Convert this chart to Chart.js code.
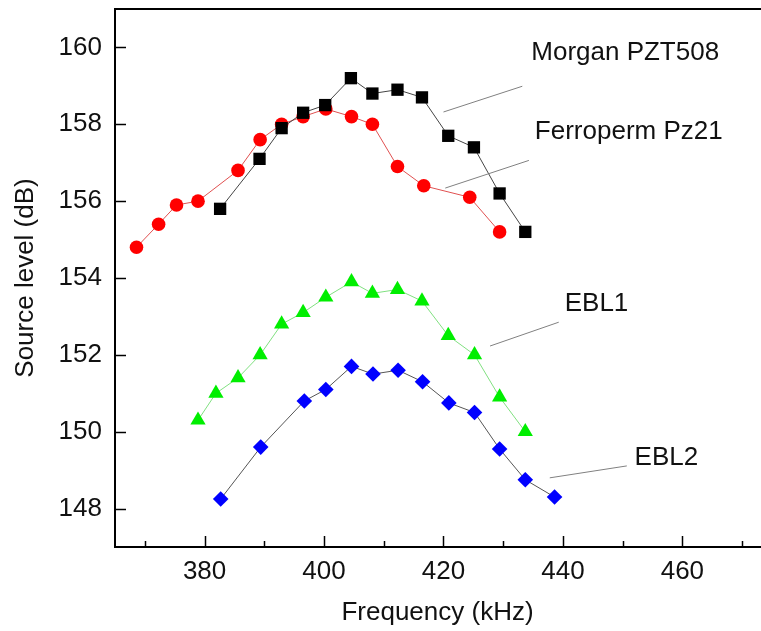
<!DOCTYPE html>
<html>
<head>
<meta charset="utf-8">
<script src="https://cdn.jsdelivr.net/npm/chart.js@4/dist/chart.umd.min.js"></script>
<style>
  html, body { margin: 0; padding: 0; background: #fff; }
  #myChart { display: block; }
</style>
</head>
<body>
<canvas id="myChart" width="761" height="631"></canvas>
<script>
const ctx = document.getElementById('myChart');

// Morgan PZT508
const freqMorgan = [382.6, 389.2, 392.9, 396.5, 400.2, 404.5, 408.1, 412.3, 416.4, 420.8, 425.1, 429.4, 433.7];
const levelMorgan = [155.8, 157.1, 157.9, 158.3, 158.5, 159.2, 158.8, 158.9, 158.7, 157.7, 157.4, 156.2, 155.2];

// Ferroperm Pz21
const freqFerro = [368.6, 372.3, 375.3, 378.9, 385.6, 389.3, 392.9, 396.5, 400.3, 404.6, 408.1, 412.3, 416.7, 424.4, 429.4];
const levelFerro = [154.8, 155.4, 155.9, 156.0, 156.8, 157.6, 158.0, 158.2, 158.4, 158.2, 158.0, 156.9, 156.4, 156.1, 155.2];

// EBL1
const freqEbl1 = [378.9, 381.9, 385.6, 389.3, 392.9, 396.5, 400.3, 404.6, 408.1, 412.3, 416.4, 420.8, 425.2, 429.4, 433.7];
const levelEbl1 = [150.3, 151.0, 151.4, 152.0, 152.8, 153.1, 153.5, 153.9, 153.6, 153.7, 153.4, 152.5, 152.0, 150.9, 150.0];

// EBL2
const freqEbl2 = [382.7, 389.4, 396.7, 400.3, 404.6, 408.2, 412.4, 416.5, 420.9, 425.2, 429.4, 433.7, 438.6];
const levelEbl2 = [148.25, 149.6, 150.8, 151.1, 151.7, 151.5, 151.6, 151.3, 150.75, 150.5, 149.55, 148.75, 148.3];

// ticks
const xTicks = [370, 380, 390, 400, 410, 420, 430, 440, 450, 460, 470];
const yTicks = [148, 150, 152, 154, 156, 158, 160];

// labels with leader lines (data units)
const etiquetas = [
    { texto: 'Morgan PZT508', x: 434.7, y: 159.87, linea: [420.0, 158.32, 433.2, 158.99] },
    { texto: 'Ferroperm Pz21', x: 435.3, y: 157.81, linea: [420.3, 156.34, 434.3, 157.06] },
    { texto: 'EBL1', x: 440.3, y: 153.32, linea: [427.8, 152.23, 439.3, 152.85] },
    { texto: 'EBL2', x: 452.0, y: 149.32, linea: [437.8, 148.80, 450.7, 149.11] }
];

const FUENTE = '"Liberation Sans", Arial, sans-serif';

function puntos(xs, ys) {
    return xs.map((x, i) => ({ x: x, y: ys[i] }));
}

// inward ticks, top frame line and annotations
const extras = {
    id: 'extras',
    afterDatasetsDraw(chart) {
        const c = chart.ctx;
        const a = chart.chartArea;
        const sx = chart.scales.x;
        const sy = chart.scales.y;
        c.save();
        c.strokeStyle = '#000';
        c.lineWidth = 2;
        c.beginPath();
        c.moveTo(a.left - 1, a.top);
        c.lineTo(a.right + 2, a.top);
        c.stroke();

        c.lineWidth = 1.5;
        for (const v of xTicks) {
            const px = Math.round(sx.getPixelForValue(v)) + 0.5;
            const largo = v % 20 === 0 ? 11 : 6;
            c.beginPath();
            c.moveTo(px, a.bottom);
            c.lineTo(px, a.bottom - largo);
            c.stroke();
        }
        for (const v of yTicks) {
            const py = Math.round(sy.getPixelForValue(v)) + 0.5;
            c.beginPath();
            c.moveTo(a.left, py);
            c.lineTo(a.left + 11, py);
            c.stroke();
        }

        c.strokeStyle = '#808080';
        c.lineWidth = 1;
        c.fillStyle = '#111';
        c.font = '26px ' + FUENTE;
        c.textAlign = 'left';
        c.textBaseline = 'middle';
        for (const e of etiquetas) {
            const l = e.linea;
            c.beginPath();
            c.moveTo(sx.getPixelForValue(l[0]), sy.getPixelForValue(l[1]));
            c.lineTo(sx.getPixelForValue(l[2]), sy.getPixelForValue(l[3]));
            c.stroke();
            c.fillText(e.texto, sx.getPixelForValue(e.x), sy.getPixelForValue(e.y));
        }
        c.restore();
    }
};

new Chart(ctx, {
    type: 'scatter',
    data: {
        datasets: [
            {
                label: 'Morgan PZT508',
                data: puntos(freqMorgan, levelMorgan),
                showLine: true,
                borderColor: '#444',
                borderWidth: 1,
                backgroundColor: '#000',
                pointStyle: 'rect',
                pointRadius: 8.7,
                pointBorderWidth: 0,
                pointBorderColor: '#000'
            },
            {
                label: 'Ferroperm Pz21',
                data: puntos(freqFerro, levelFerro),
                showLine: true,
                borderColor: '#e05050',
                borderWidth: 1,
                backgroundColor: '#ff0000',
                pointStyle: 'circle',
                pointRadius: 6.8,
                pointBorderWidth: 0,
                pointBorderColor: '#ff0000'
            },
            {
                label: 'EBL1',
                data: puntos(freqEbl1, levelEbl1),
                showLine: true,
                borderColor: '#80e080',
                borderWidth: 1,
                backgroundColor: '#00ee00',
                pointStyle: 'triangle',
                pointRadius: 8.8,
                pointBorderWidth: 0,
                pointBorderColor: '#00ee00'
            },
            {
                label: 'EBL2',
                data: puntos(freqEbl2, levelEbl2),
                showLine: true,
                borderColor: '#555',
                borderWidth: 1,
                backgroundColor: '#0000ff',
                pointStyle: 'rectRot',
                pointRadius: 7.8,
                pointBorderWidth: 0,
                pointBorderColor: '#0000ff'
            }
        ]
    },
    options: {
        responsive: false,
        animation: false,
        layout: { autoPadding: false, padding: { top: 9, right: 1, bottom: 0, left: 0 } },
        plugins: {
            legend: { display: false },
            tooltip: { enabled: false }
        },
        scales: {
            x: {
                type: 'linear',
                min: 365,
                max: 473,
                afterBuildTicks: (axis) => { axis.ticks = xTicks.map(v => ({ value: v })); },
                afterFit: (axis) => {
                    axis.height = 84;
                    axis.paddingLeft = 0;
                    axis.paddingRight = 0;
                },
                grid: { display: false, drawTicks: false },
                border: { display: true, color: '#000', width: 2 },
                ticks: {
                    color: '#111',
                    padding: 9,
                    maxRotation: 0,
                    autoSkip: false,
                    font: { family: FUENTE, size: 26 },
                    callback: (v) => (v % 20 === 0 ? v : '')
                },
                title: {
                    display: true,
                    text: 'Frequency (kHz)',
                    color: '#111',
                    font: { family: FUENTE, size: 26 },
                    padding: { top: 0, bottom: 3 }
                }
            },
            y: {
                type: 'linear',
                min: 147,
                max: 161,
                afterBuildTicks: (axis) => { axis.ticks = yTicks.map(v => ({ value: v })); },
                afterFit: (axis) => {
                    axis.width = 115;
                    axis.paddingTop = 0;
                    axis.paddingBottom = 0;
                },
                grid: { display: false, drawTicks: false },
                border: { display: true, color: '#000', width: 2 },
                ticks: {
                    color: '#111',
                    padding: 13,
                    font: { family: FUENTE, size: 26 }
                },
                title: {
                    display: true,
                    text: 'Source level (dB)',
                    color: '#111',
                    font: { family: FUENTE, size: 26 },
                    padding: { top: 10, bottom: 0 }
                }
            }
        }
    },
    plugins: [extras]
});
</script>
</body>
</html>
